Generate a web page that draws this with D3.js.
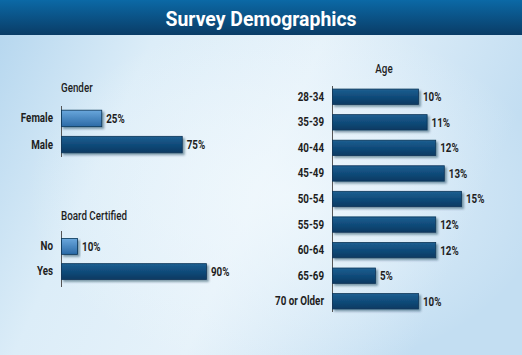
<!DOCTYPE html>
<html><head><meta charset="utf-8">
<script src="https://cdn.jsdelivr.net/npm/d3@7"></script>
<style>body{margin:0;padding:0;overflow:hidden}svg{display:block}</style>
</head><body>
<script>
const title = "Survey Demographics";
const genderCats = ["Female", "Male"];
const genderVals = [25, 75];
const boardCats = ["No", "Yes"];
const boardVals = [10, 90];
const ageCats = ["28-34","35-39","40-44","45-49","50-54","55-59","60-64","65-69","70 or Older"];
const ageVals = [10, 11, 12, 13, 15, 12, 12, 5, 10];
const lightCats = ["Female", "No"];

const W = 522, H = 355;
const svg = d3.select("body").append("svg").attr("width", W).attr("height", H);
const defs = svg.append("defs");
const FONT = "Roboto, 'Liberation Sans', sans-serif";
const FS = 12.3;

function measure(str, size) {
  const t = svg.append("text").attr("font-family",FONT).attr("font-weight","bold").attr("font-size",size).text(str);
  const w = t.node().getComputedTextLength(); t.remove(); return w;
}
const SX = 49 / measure("70 or Older", FS);
const TSX = 191 / measure(title, 21);

const bg = defs.append("linearGradient").attr("id","bg").attr("x1","0").attr("y1","0").attr("x2","1").attr("y2","0.3");
bg.append("stop").attr("offset","0").attr("stop-color","#b3d5ee");
bg.append("stop").attr("offset","0.3").attr("stop-color","#dcedf8");
bg.append("stop").attr("offset","0.6").attr("stop-color","#e6f2fa");
bg.append("stop").attr("offset","1").attr("stop-color","#c3def2");
svg.append("rect").attr("width",W).attr("height",H).attr("fill","url(#bg)");
const glow = defs.append("radialGradient").attr("id","glow").attr("cx","0.55").attr("cy","0.55").attr("r","0.5");
glow.append("stop").attr("offset","0").attr("stop-color","#f2f9fd").attr("stop-opacity","0.8");
glow.append("stop").attr("offset","1").attr("stop-color","#f2f9fd").attr("stop-opacity","0");
svg.append("rect").attr("width",W).attr("height",H).attr("fill","url(#glow)");

const tb = defs.append("linearGradient").attr("id","tb").attr("x1","0").attr("y1","0").attr("x2","0").attr("y2","1");
tb.append("stop").attr("offset","0").attr("stop-color","#0b69a6");
tb.append("stop").attr("offset","1").attr("stop-color","#0a3c66");
svg.append("rect").attr("width",W).attr("height",35).attr("fill","url(#tb)");
svg.append("text").attr("transform",`translate(${W/2},26) scale(${TSX},1)`).attr("text-anchor","middle")
  .attr("font-family",FONT).attr("font-weight","bold").attr("font-size",21).attr("fill","#ffffff").text(title);

const dg = defs.append("linearGradient").attr("id","dark").attr("x1","0").attr("y1","0").attr("x2","0").attr("y2","1");
dg.append("stop").attr("offset","0").attr("stop-color","#1d5f91");
dg.append("stop").attr("offset","0.5").attr("stop-color","#104b7a");
dg.append("stop").attr("offset","1").attr("stop-color","#0b3a62");
const lg = defs.append("linearGradient").attr("id","light").attr("x1","0").attr("y1","0").attr("x2","0").attr("y2","1");
lg.append("stop").attr("offset","0").attr("stop-color","#6aa7dc");
lg.append("stop").attr("offset","1").attr("stop-color","#2b6aa6");
const sh = defs.append("filter").attr("id","sh").attr("x","-10%").attr("y","-30%").attr("width","130%").attr("height","190%");
sh.append("feDropShadow").attr("dx",2).attr("dy",2).attr("stdDeviation",1.3).attr("flood-color","#0a2a45").attr("flood-opacity",0.45);

function styleText(sel) {
  return sel.attr("font-family",FONT).attr("font-weight","bold").attr("font-size",FS).attr("fill","#1e1e1e");
}

function panel(cats, vals, opt) {
  const g = svg.append("g");
  const x = d3.scaleLinear().domain([0, 100]).range([opt.x0, opt.x0 + opt.pxPer100]);
  const y = d3.scaleBand().domain(cats).range([opt.y0, opt.y1]).paddingInner(opt.pad).paddingOuter(opt.padOuter);
  const ax = d3.axisLeft(y).tickSize(0).tickPadding(7);
  const axg = g.append("g").attr("transform", `translate(${opt.x0},0)`).call(ax);
  axg.select(".domain").attr("stroke","#555").attr("stroke-width",1).attr("d", `M0.5,${opt.y0}V${opt.y1}`);
  styleText(axg.selectAll("text")).attr("x",0).attr("transform",`translate(-8,0) scale(${SX},1)`);
  g.selectAll("rect.bar").data(cats).join("rect").attr("class","bar")
    .attr("x", x(0) + 0.5).attr("y", d => y(d))
    .attr("width", (d,i) => x(vals[i]) - x(0)).attr("height", y.bandwidth())
    .attr("fill", d => lightCats.includes(d) ? "url(#light)" : "url(#dark)")
    .attr("stroke", "#0b3558").attr("stroke-width", 0.8)
    .attr("filter","url(#sh)");
  styleText(g.selectAll("text.val").data(cats).join("text").attr("class","val"))
    .attr("transform", (d,i) => `translate(${x(vals[i]) + 5},${y(d) + y.bandwidth()/2}) scale(${SX},1)`).attr("dy","0.36em")
    .text((d,i) => vals[i] + "%");
  styleText(g.append("text")).attr("transform", `translate(${opt.tx},${opt.ty}) scale(${SX},1)`).attr("text-anchor", opt.tanchor)
    .attr("font-weight", 500).text(opt.title);
}

panel(genderCats, genderVals, {x0:61, pxPer100:161, y0:106, y1:157, pad:0.37, padOuter:0.16, title:"Gender", tx:61, ty:92, tanchor:"start"});
panel(boardCats, boardVals, {x0:61, pxPer100:161, y0:231, y1:287, pad:0.37, padOuter:0.3, title:"Board Certified", tx:61, ty:220, tanchor:"start"});
panel(ageCats, ageVals, {x0:332, pxPer100:860, y0:86, y1:312, pad:0.4, padOuter:0.12, title:"Age", tx:384, ty:73, tanchor:"middle"});
</script>
</body></html>
